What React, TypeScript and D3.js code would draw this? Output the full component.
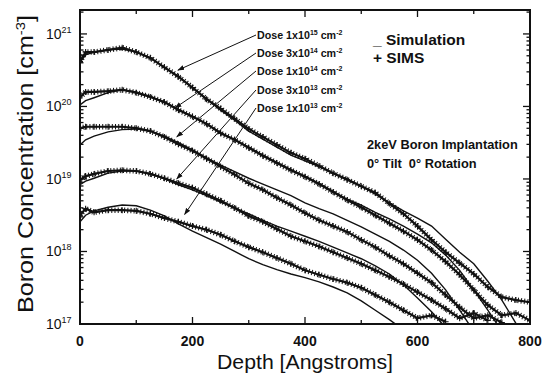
import * as d3 from "d3";

// depth grid [Angstroms] shared by every curve
const depth = [0, 10, 25, 50, 75, 100, 125, 150, 175, 200, 225, 250, 275, 300, 325, 350, 375, 400,
  425, 450, 475, 500, 525, 550, 575, 600, 625, 650, 675, 700, 725, 750, 775, 800];

// log10 of boron concentration [cm^-3] (null = no data)
const simsDose1e15 = [20.62, 20.75, 20.75, 20.78, 20.81, 20.75, 20.67, 20.54, 20.41, 20.26, 20.10, 19.97, 19.83, 19.69,
  19.58, 19.47, 19.36, 19.28, 19.18, 19.08, 18.99, 18.90, 18.81, 18.66, 18.52, 18.35, 18.16, 17.99, 17.84, 17.69, 17.51, 17.37, 17.33, 17.30];
const simDose1e15 = [20.61, 20.71, 20.75, 20.78, 20.79, 20.75, 20.67, 20.54, 20.41, 20.26, 20.10, 19.95, 19.81, 19.66,
  19.55, 19.44, 19.33, 19.25, 19.17, 19.08, 19.00, 18.90, 18.79, 18.67, 18.56, 18.46, 18.35, 18.17, 17.99, 17.83, 17.59, 17.33, 17.01, null];

const simsDose3e14 = [20.13, 20.20, 20.20, 20.21, 20.23, 20.19, 20.13, 20.06, 19.95, 19.86, 19.76, 19.63, 19.54, 19.43,
  19.32, 19.22, 19.12, 19.03, 18.93, 18.82, 18.71, 18.61, 18.50, 18.39, 18.28, 18.16, 18.02, 17.86, 17.68, 17.47, 17.26, 17.12, 17.15, 17.05];
const simDose3e14 = [20.02, 20.08, 20.12, 20.19, 20.23, 20.20, 20.14, 20.06, 19.96, 19.86, 19.76, 19.64, 19.54, 19.44,
  19.33, 19.23, 19.13, 19.04, 18.94, 18.83, 18.72, 18.64, 18.54, 18.45, 18.35, 18.24, 18.12, 17.95, 17.74, 17.47, 17.19, 16.9, null, null];

const simsDose1e14 = [19.70, 19.72, 19.72, 19.72, 19.72, 19.70, 19.66, 19.58, 19.48, 19.39, 19.28, 19.17, 19.06, 18.94,
  18.85, 18.74, 18.64, 18.53, 18.43, 18.35, 18.27, 18.16, 18.06, 17.94, 17.83, 17.70, 17.57, 17.40, 17.23, 17.08, 17.12, 17.02, null, null];
const simDose1e14 = [19.47, 19.54, 19.59, 19.65, 19.68, 19.69, 19.66, 19.59, 19.50, 19.40, 19.29, 19.19, 19.10, 19.01,
  18.93, 18.85, 18.77, 18.67, 18.59, 18.52, 18.43, 18.34, 18.24, 18.14, 18.02, 17.88, 17.70, 17.47, 17.19, 16.9, null, null, null, null];

const simsDose3e13 = [18.99, 19.04, 19.07, 19.11, 19.12, 19.11, 19.07, 19.01, 18.94, 18.88, 18.79, 18.70, 18.60, 18.49,
  18.41, 18.31, 18.21, 18.14, 18.07, 17.99, 17.91, 17.83, 17.74, 17.65, 17.55, 17.44, 17.33, 17.21, 17.08, 17.15, 17.05, null, null, null];
const simDose3e13 = [18.92, 18.97, 19.01, 19.08, 19.11, 19.11, 19.07, 19.00, 18.92, 18.85, 18.77, 18.68, 18.60, 18.52,
  18.43, 18.35, 18.28, 18.21, 18.14, 18.06, 17.98, 17.90, 17.80, 17.69, 17.54, 17.36, 17.17, 16.95, null, null, null, null, null, null];

const simsDose1e13 = [18.50, 18.59, 18.54, 18.57, 18.57, 18.56, 18.52, 18.46, 18.41, 18.35, 18.30, 18.23, 18.14, 18.06,
  17.99, 17.91, 17.83, 17.74, 17.68, 17.62, 17.57, 17.50, 17.40, 17.30, 17.19, 17.08, 17.12, 17.03, null, null, null, null, null, null];
const simDose1e13 = [18.41, 18.50, 18.56, 18.61, 18.64, 18.63, 18.57, 18.49, 18.38, 18.28, 18.19, 18.10, 18.00, 17.90,
  17.82, 17.75, 17.69, 17.64, 17.58, 17.51, 17.43, 17.32, 17.19, 17.06, 16.92, null, null, null, null, null, null, null, null, null];

const doseMantissa = ["1", "3", "1", "3", "1"];
const doseExponent = ["15", "14", "14", "13", "13"];
// arrow targets (depth, log10 conc) for each dose label
const arrowDepth = [174, 169, 172, 172, 186];
const arrowLog = [20.50, 19.98, 19.58, 19.00, 18.51];

const xTicks = [0, 200, 400, 600, 800];
const xMinor = [100, 300, 500, 700];
const decades = [17, 18, 19, 20, 21];

const W = 553, H = 376;
const left = 80, right = 530, top = 10, bottom = 324;

const toPts = (vals: (number | null)[]) =>
  vals.map((v, i) => (v == null ? null : { d: depth[i], c: Math.pow(10, v) })).filter(p => p) as { d: number; c: number }[];

const App = () => {
  const x = d3.scaleLinear().domain([0, 800]).range([left, right]);
  const y = d3.scaleLog().domain([1e17, Math.pow(10, 21.33)]).range([bottom, top]);
  const line = d3.line<{ d: number; c: number }>().x(p => x(p.d)).y(p => y(p.c));

  const sims = [simsDose1e15, simsDose3e14, simsDose1e14, simsDose3e13, simsDose1e13].map(toPts);
  const sims2 = [simDose1e15, simDose3e14, simDose1e14, simDose3e13, simDose1e13].map(toPts);

  const minorY: number[] = [];
  decades.slice(0, 4).forEach(e => { for (let k = 2; k <= 9; k++) minorY.push(k * Math.pow(10, e)); });
  minorY.push(2e21);

  const ink = "#111";
  const font = "'Liberation Sans', Arial, sans-serif";
  const textX = 257;
  const textY = [39, 57, 75, 94, 112];

  return (
    <svg width={W} height={H} style={{ position: "absolute", left: 0, top: 0, background: "#fff" }} fontFamily={font}>
      <defs>
        <clipPath id="plot"><rect x={left} y={top} width={right - left} height={bottom - top} /></clipPath>
        <marker id="ah" viewBox="0 0 10 10" refX="9" refY="5" markerWidth="7" markerHeight="7" orient="auto-start-reverse">
          <path d="M0,1.5L10,5L0,8.5z" fill={ink} />
        </marker>
      </defs>

      {/* curves */}
      <g clipPath="url(#plot)" fill="none" stroke={ink}>
        {sims2.map((s, i) => (
          <path key={"sim" + i} d={line(s) ?? ""} strokeWidth={1.4} />
        ))}
        {sims.map((s, i) => (
          <g key={"sims" + i}>
            {/* the "+" symbols of the SIMS trace: dashes across a wide stroke */}
            <path d={line(s) ?? ""} strokeWidth={5.5} strokeDasharray="1 2.2" />
            <path d={line(s) ?? ""} strokeWidth={2.2} />
            {s.map((p, j) => (
              <path key={j} transform={`translate(${x(p.d)},${y(p.c)})`} d="M-3,0H3M0,-3V3" strokeWidth={1.1} />
            ))}
          </g>
        ))}
      </g>

      {/* frame */}
      <rect x={left} y={top} width={right - left} height={bottom - top} fill="none" stroke={ink} strokeWidth={2} />

      {/* ticks */}
      <g stroke={ink} strokeWidth={1.3}>
        {xTicks.map(t => (
          <g key={t}>
            <line x1={x(t)} x2={x(t)} y1={bottom} y2={bottom - 7} />
            <line x1={x(t)} x2={x(t)} y1={top} y2={top + 7} />
          </g>
        ))}
        {xMinor.map(t => (
          <g key={t}>
            <line x1={x(t)} x2={x(t)} y1={bottom} y2={bottom - 4} />
            <line x1={x(t)} x2={x(t)} y1={top} y2={top + 4} />
          </g>
        ))}
        {decades.map(e => (
          <g key={e}>
            <line x1={left} x2={left + 7} y1={y(Math.pow(10, e))} y2={y(Math.pow(10, e))} />
            <line x1={right} x2={right - 7} y1={y(Math.pow(10, e))} y2={y(Math.pow(10, e))} />
          </g>
        ))}
        {minorY.map(v => (
          <g key={v}>
            <line x1={left} x2={left + 3.5} y1={y(v)} y2={y(v)} />
            <line x1={right} x2={right - 3.5} y1={y(v)} y2={y(v)} />
          </g>
        ))}
      </g>

      {/* tick labels */}
      <g fill={ink} fontWeight="bold" fontSize={14} textAnchor="middle">
        {xTicks.map(t => (
          <text key={t} x={x(t)} y={346}>{t}</text>
        ))}
      </g>
      <g fill={ink} fontSize={14}>
        {decades.map(e => (
          <text key={e} x={46} y={y(Math.pow(10, e)) + 5}>
            10<tspan fontSize={9} dy={-6}>{e}</tspan>
          </text>
        ))}
      </g>

      {/* axis titles */}
      <text x={305} y={369} textAnchor="middle" fontSize={20} fill={ink} textLength={176} lengthAdjust="spacingAndGlyphs">
        Depth [Angstroms]
      </text>
      <text transform="translate(33,164) rotate(-90)" textAnchor="middle" fontSize={22} fill={ink}
        textLength={298} lengthAdjust="spacingAndGlyphs">
        Boron Concentration [cm<tspan fontSize={13} dy={-8}>-3</tspan><tspan dy={8}>]</tspan>
      </text>

      {/* dose labels with arrows */}
      <g fill={ink} fontWeight="bold" fontSize={10.7}>
        {doseMantissa.map((m, i) => (
          <g key={i}>
            <line x1={textX - 1} y1={textY[i] - 4} x2={x(arrowDepth[i])} y2={y(Math.pow(10, arrowLog[i]))}
              stroke={ink} strokeWidth={1} markerEnd="url(#ah)" />
            <text x={textX} y={textY[i]}>
              Dose {m}x10<tspan fontSize={7} dy={-4}>{doseExponent[i]}</tspan>
              <tspan dy={4}> cm</tspan><tspan fontSize={7} dy={-4}>-2</tspan>
            </text>
          </g>
        ))}
      </g>

      {/* legend */}
      <g fill={ink} fontWeight="bold" fontSize={15.5}>
        <text x={373} y={45}>_ Simulation</text>
        <text x={373} y={63}>+ SIMS</text>
      </g>
      <g fill={ink} fontWeight="bold" fontSize={12.8}>
        <text x={367} y={149}>2keV Boron Implantation</text>
        <text x={367} y={168}>0° Tilt&#160;&#160;0° Rotation</text>
      </g>
    </svg>
  );
};

export default App;
